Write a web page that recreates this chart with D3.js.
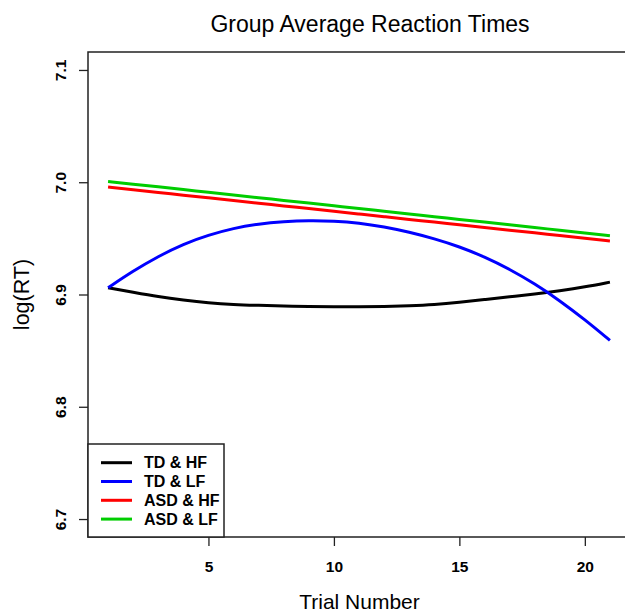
<!DOCTYPE html>
<html>
<head>
<meta charset="utf-8">
<script src="https://cdn.jsdelivr.net/npm/d3@7"></script>
<style>
  body { margin: 0; background: #fff; }
  svg { display: block; font-family: "Liberation Sans", Arial, sans-serif; }
</style>
</head>
<body>
<div id="chartContainer"></div>
<script>
// trial numbers
var trials = [1, 2, 3, 4, 5, 6, 7, 8, 9, 10, 11, 12, 13, 14, 15, 16, 17, 18, 19, 20, 21];

// fitted log(RT) per trial
var tdHF  = [6.9060, 6.9020, 6.8980, 6.8950, 6.8925, 6.8910, 6.8903, 6.8898, 6.8893, 6.8890, 6.8890,
             6.8893, 6.8900, 6.8910, 6.8930, 6.8955, 6.8980, 6.9003, 6.9033, 6.9067, 6.9110];
var tdLF  = [6.9060, 6.9210, 6.9340, 6.9450, 6.9530, 6.9590, 6.9630, 6.9650, 6.9660, 6.9655, 6.9638,
             6.9603, 6.9556, 6.9497, 6.9426, 6.9336, 6.9226, 6.9096, 6.8946, 6.8776, 6.8591];
var asdHF = [6.9957, 6.9933, 6.9909, 6.9885, 6.9861, 6.9837, 6.9813, 6.9789, 6.9765, 6.9741, 6.9717,
             6.9693, 6.9669, 6.9645, 6.9621, 6.9597, 6.9573, 6.9549, 6.9525, 6.9501, 6.9477];
var asdLF = [7.0007, 6.9983, 6.9959, 6.9935, 6.9910, 6.9886, 6.9862, 6.9838, 6.9814, 6.9790, 6.9766,
             6.9741, 6.9717, 6.9693, 6.9669, 6.9645, 6.9621, 6.9597, 6.9572, 6.9548, 6.9524];

var seriesNames = ["TD & HF", "TD & LF", "ASD & HF", "ASD & LF"];
var seriesColors = ["#000000", "#0000ff", "#ff0000", "#00cd00"];
var xTicks = [5, 10, 15, 20];
var yTicks = [6.7, 6.8, 6.9, 7.0, 7.1];

function init() {
    var w = 625;
    var h = 612;
    var left = 88, right = 630, top = 52, bottom = 537;

    var allSeries = [tdHF, tdLF, asdHF, asdLF];

    // R style axes: data range padded by 4%
    var xScale = d3.scaleLinear()
        .domain([1 - 0.8, 21 + 0.8])
        .range([left, right]);

    var yScale = d3.scaleLinear()
        .domain([6.7 - 0.016, 7.1 + 0.016])
        .range([bottom, top]);

    var svg = d3.select("#chartContainer")
        .append("svg")
        .attr("width", w)
        .attr("height", h);

    var line = d3.line()
        .x(function (d) { return xScale(d.t); })
        .y(function (d) { return yScale(d.v); })
        .curve(d3.curveBasis);

    allSeries.forEach(function (vals, i) {
        var pts = trials.map(function (t, j) { return { t: t, v: vals[j] }; });
        svg.append("path")
            .datum(pts)
            .attr("fill", "none")
            .attr("stroke", seriesColors[i])
            .attr("stroke-width", 3)
            .attr("d", line);
    });

    // axes
    var xAxis = d3.axisBottom(xScale).tickValues(xTicks).tickSize(9).tickFormat(d3.format("d"));
    var yAxis = d3.axisLeft(yScale).tickValues(yTicks).tickSize(9).tickFormat(d3.format(".1f"));

    var gx = svg.append("g")
        .attr("class", "x axis")
        .attr("transform", "translate(0," + bottom + ")")
        .call(xAxis);
    gx.select(".domain").remove();
    gx.selectAll("line").attr("stroke", "#222").attr("stroke-width", 1.3);
    gx.selectAll("text")
        .attr("y", 35).attr("dy", 0)
        .attr("fill", "#000")
        .attr("font-size", "15.5px")
        .attr("font-weight", "bold")
        .attr("font-family", "Liberation Sans, Arial, sans-serif");

    var gy = svg.append("g")
        .attr("class", "y axis")
        .attr("transform", "translate(" + left + ",0)")
        .call(yAxis);
    gy.select(".domain").remove();
    gy.selectAll("line").attr("stroke", "#222").attr("stroke-width", 1.3);
    gy.selectAll("text")
        .attr("x", 0).attr("y", 0).attr("dy", 0)
        .attr("text-anchor", "middle")
        .attr("transform", "translate(-22,0) rotate(-90)")
        .attr("fill", "#000")
        .attr("font-size", "15.5px")
        .attr("font-weight", "bold")
        .attr("font-family", "Liberation Sans, Arial, sans-serif");

    // plot box
    svg.append("rect")
        .attr("x", left)
        .attr("y", top)
        .attr("width", right - left)
        .attr("height", bottom - top)
        .attr("fill", "none")
        .attr("stroke", "#222")
        .attr("stroke-width", 1.5);

    // legend
    var lg = svg.append("g").attr("class", "legend");
    lg.append("rect")
        .attr("x", left)
        .attr("y", 444)
        .attr("width", 136)
        .attr("height", bottom - 444)
        .attr("fill", "#fff")
        .attr("stroke", "#222")
        .attr("stroke-width", 1.5);
    seriesNames.forEach(function (name, i) {
        var yy = 462.7 + i * 18.8;
        lg.append("line")
            .attr("x1", 101).attr("x2", 132)
            .attr("y1", yy).attr("y2", yy)
            .attr("stroke", seriesColors[i])
            .attr("stroke-width", 3);
        lg.append("text")
            .attr("x", 144)
            .attr("y", yy + 5.5)
            .attr("font-size", "16px")
            .attr("font-weight", "bold")
            .text(name);
    });

    // titles
    svg.append("text")
        .attr("x", 370)
        .attr("y", 32)
        .attr("text-anchor", "middle")
        .attr("font-size", "23px")
        .text("Group Average Reaction Times");

    svg.append("text")
        .attr("x", 359.5)
        .attr("y", 609)
        .attr("text-anchor", "middle")
        .attr("font-size", "21px")
        .text("Trial Number");

    svg.append("text")
        .attr("transform", "translate(29," + ((top + bottom) / 2) + ") rotate(-90)")
        .attr("text-anchor", "middle")
        .attr("font-size", "21.5px")
        .text("log(RT)");
}

window.onload = init;
</script>
</body>
</html>
